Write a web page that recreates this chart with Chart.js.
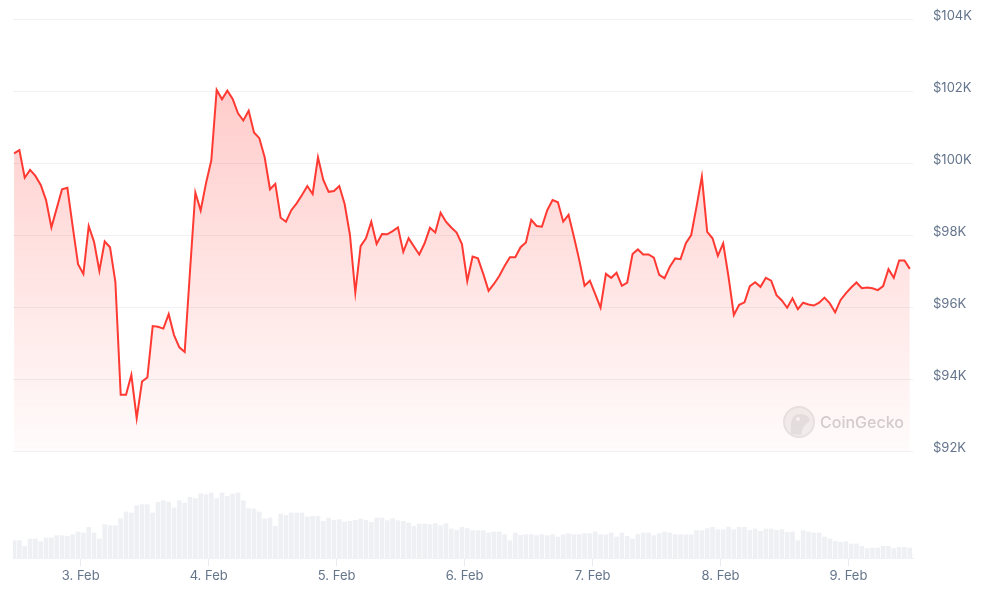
<!DOCTYPE html>
<html>
<head>
<meta charset="utf-8">
<script src="https://cdn.jsdelivr.net/npm/chart.js@4.4.1/dist/chart.umd.min.js"></script>
<style>
  html, body { margin: 0; padding: 0; background: #fff; }
  #wrap { width: 987px; height: 591px; position: relative; }
</style>
</head>
<body>
<div id="wrap"><canvas id="chart"></canvas></div>
<script>
// hourly price (in $K), 2 Feb ~11:30 -> 9 Feb ~12:00
const prices = [
  100.27, 100.36, 99.59, 99.81, 99.64, 99.39, 98.97, 98.21, 98.74, 99.27,
  99.31, 98.23, 97.19, 96.92, 98.25, 97.81, 97.00, 97.82, 97.66, 96.70,
  93.56, 93.56, 94.11, 92.91, 93.93, 94.04, 95.47, 95.45, 95.40, 95.80,
  95.22, 94.88, 94.75, 97.00, 99.18, 98.68, 99.44, 100.08, 102.03, 101.77,
  102.01, 101.78, 101.38, 101.18, 101.45, 100.85, 100.69, 100.16, 99.27, 99.42,
  98.48, 98.37, 98.69, 98.88, 99.11, 99.36, 99.14, 100.16, 99.53, 99.20,
  99.22, 99.36, 98.86, 98.00, 96.40, 97.69, 97.91, 98.37, 97.75, 98.03,
  98.02, 98.11, 98.21, 97.53, 97.91, 97.68, 97.46, 97.77, 98.20, 98.07,
  98.62, 98.37, 98.21, 98.07, 97.75, 96.72, 97.40, 97.35, 96.92, 96.45,
  96.64, 96.86, 97.14, 97.38, 97.38, 97.66, 97.79, 98.42, 98.25, 98.23,
  98.69, 98.97, 98.91, 98.37, 98.56, 97.95, 97.31, 96.59, 96.73, 96.36,
  95.98, 96.92, 96.81, 96.95, 96.59, 96.68, 97.47, 97.60, 97.46, 97.46,
  97.37, 96.89, 96.80, 97.12, 97.35, 97.33, 97.77, 98.00, 98.79, 99.62,
  98.09, 97.91, 97.42, 97.77, 96.84, 95.78, 96.06, 96.13, 96.58, 96.69,
  96.56, 96.81, 96.73, 96.33, 96.18, 95.98, 96.24, 95.94, 96.12, 96.07,
  96.04, 96.12, 96.26, 96.10, 95.85, 96.19, 96.38, 96.54, 96.68, 96.52,
  96.54, 96.52, 96.47, 96.58, 97.05, 96.81, 97.29, 97.29, 97.06
];

// hourly volume (relative units)
const volumes = [
  52, 52, 35, 57, 57, 49, 60, 60, 67, 67,
  65, 70, 78, 75, 92, 75, 57, 100, 97, 97,
  118, 138, 135, 157, 160, 160, 135, 167, 172, 168,
  150, 172, 165, 182, 178, 193, 190, 195, 178, 195,
  185, 192, 195, 172, 148, 147, 138, 117, 120, 95,
  132, 128, 135, 135, 135, 123, 125, 125, 110, 120,
  113, 115, 108, 110, 113, 117, 113, 107, 120, 120,
  112, 118, 112, 110, 105, 95, 102, 102, 100, 103,
  97, 103, 87, 83, 92, 88, 82, 82, 82, 75,
  78, 78, 70, 52, 75, 68, 70, 70, 67, 70,
  67, 70, 63, 70, 73, 70, 70, 73, 73, 78,
  70, 70, 75, 63, 75, 65, 57, 70, 75, 75,
  67, 73, 78, 75, 70, 70, 70, 70, 82, 82,
  88, 92, 85, 85, 93, 85, 92, 92, 83, 87,
  80, 87, 87, 83, 85, 77, 78, 52, 82, 78,
  75, 75, 63, 57, 50, 47, 49, 42, 42, 35,
  28, 30, 30, 35, 35, 28, 32, 32, 30
];

// hours relative to 3 Feb 00:00
const startHour = -12.5;
const hours = prices.map((p, i) => startHour + i);

const priceTicks = [92000, 94000, 96000, 98000, 100000, 102000, 104000];
const dayTicks = [0, 24, 48, 72, 96, 120, 144];
const dayLabels = ['3. Feb', '4. Feb', '5. Feb', '6. Feb', '7. Feb', '8. Feb', '9. Feb'];

const axisColor = '#64748b';
const gridColor = '#eff1f4';

const watermark = {
  id: 'watermark',
  beforeDatasetsDraw(chart) {
    const ctx = chart.ctx;
    ctx.save();
    const cx = 799, cy = 422;
    ctx.beginPath();
    ctx.arc(cx, cy, 15, 0, Math.PI * 2);
    ctx.fillStyle = '#f1f1f1';
    ctx.fill();
    ctx.lineWidth = 2;
    ctx.strokeStyle = '#e6e6e6';
    ctx.stroke();
    // gecko head
    ctx.beginPath();
    ctx.moveTo(cx - 8, cy + 12);
    ctx.quadraticCurveTo(cx - 10, cy - 8, cx + 1, cy - 8);
    ctx.quadraticCurveTo(cx + 11, cy - 7, cx + 11, cy - 1);
    ctx.quadraticCurveTo(cx + 4, cy + 2, cx + 2, cy + 13);
    ctx.closePath();
    ctx.fillStyle = '#e3e3e3';
    ctx.fill();
    ctx.beginPath();
    ctx.arc(cx - 1, cy - 3, 2, 0, Math.PI * 2);
    ctx.fillStyle = '#f7f7f7';
    ctx.fill();
    ctx.font = '500 16px Inter';
    ctx.fillStyle = '#d2d2d2';
    ctx.textBaseline = 'middle';
    ctx.fillText('CoinGecko', 820, cy + 1);
    ctx.restore();
  }
};

new Chart(document.getElementById('chart'), {
  data: {
    datasets: [
      {
        type: 'line',
        data: prices.map((p, i) => ({ x: hours[i], y: p * 1000 })),
        yAxisID: 'y',
        borderColor: '#ff3a33',
        borderWidth: 2,
        pointRadius: 0,
        tension: 0,
        fill: { value: 92000 },
        backgroundColor: (c) => {
          const { chart } = c;
          const area = chart.chartArea;
          if (!area) return 'rgba(255,58,51,0.15)';
          const top = chart.scales.y.getPixelForValue(103000);
          const bottom = chart.scales.y.getPixelForValue(92000);
          const g = chart.ctx.createLinearGradient(0, top, 0, bottom);
          g.addColorStop(0, 'rgba(255,58,51,0.28)');
          g.addColorStop(1, 'rgba(255,58,51,0.02)');
          return g;
        },
        order: 1
      },
      {
        type: 'bar',
        data: volumes.map((v, i) => ({ x: hours[i], y: v })),
        yAxisID: 'yv',
        backgroundColor: '#eef0f4',
        barThickness: 4,
        order: 2
      }
    ]
  },
  options: {
    responsive: true,
    maintainAspectRatio: false,
    animation: false,
    layout: { padding: { left: 13, top: 19, right: 0, bottom: 0 } },
    plugins: { legend: { display: false }, tooltip: { enabled: false } },
    scales: {
      x: {
        type: 'linear',
        min: -12.7,
        max: 156.1,
        offset: false,
        afterBuildTicks: (s) => { s.ticks = dayTicks.map(v => ({ value: v })); },
        afterFit: (s) => { s.height = 33; },
        grid: { offset: false, drawOnChartArea: false, drawTicks: true, tickLength: 8, color: '#e8ebef' },
        border: { display: true, color: gridColor },
        ticks: {
          color: axisColor,
          font: { family: 'Inter', size: 13 },
          padding: 2,
          maxRotation: 0,
          callback: (v) => dayLabels[dayTicks.indexOf(v)]
        }
      },
      y: {
        position: 'right',
        min: 89028,
        max: 104000,
        afterBuildTicks: (s) => { s.ticks = priceTicks.map(v => ({ value: v })); },
        afterFit: (s) => { s.width = 74; },
        grid: { color: gridColor, drawTicks: true, tickLength: 20, tickColor: 'rgba(0,0,0,0)' },
        border: { display: false },
        ticks: {
          color: axisColor,
          font: { family: 'Inter', size: 13 },
          padding: 0,
          labelOffset: -3,
          callback: (v) => '$' + (v / 1000) + 'K'
        }
      },
      yv: {
        display: false,
        min: 0,
        max: 1617
      }
    }
  },
  plugins: [watermark]
});
</script>
</body>
</html>
